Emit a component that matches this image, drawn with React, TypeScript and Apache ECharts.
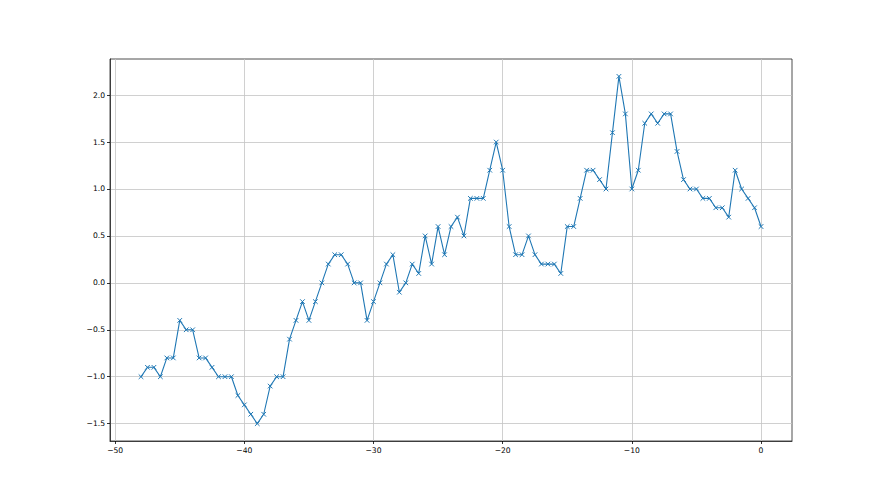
import React, { useEffect, useRef } from "react";
import * as echarts from "echarts";

const xValues: number[] = [
  -48, -47.5, -47, -46.5, -46, -45.5, -45, -44.5, -44, -43.5, -43, -42.5, -42, -41.5, -41, -40.5,
  -40, -39.5, -39, -38.5, -38, -37.5, -37, -36.5, -36, -35.5, -35, -34.5, -34, -33.5, -33, -32.5,
  -32, -31.5, -31, -30.5, -30, -29.5, -29, -28.5, -28, -27.5, -27, -26.5, -26, -25.5, -25, -24.5,
  -24, -23.5, -23, -22.5, -22, -21.5, -21, -20.5, -20, -19.5, -19, -18.5, -18, -17.5, -17, -16.5,
  -16, -15.5, -15, -14.5, -14, -13.5, -13, -12.5, -12, -11.5, -11, -10.5, -10, -9.5, -9, -8.5,
  -8, -7.5, -7, -6.5, -6, -5.5, -5, -4.5, -4, -3.5, -3, -2.5, -2, -1.5, -1, -0.5, 0,
];

const yValues: number[] = [
  -1.0, -0.9, -0.9, -1.0, -0.8, -0.8, -0.4, -0.5, -0.5, -0.8, -0.8, -0.9, -1.0, -1.0, -1.0, -1.2,
  -1.3, -1.4, -1.5, -1.4, -1.1, -1.0, -1.0, -0.6, -0.4, -0.2, -0.4, -0.2, 0.0, 0.2, 0.3, 0.3,
  0.2, 0.0, 0.0, -0.4, -0.2, 0.0, 0.2, 0.3, -0.1, 0.0, 0.2, 0.1, 0.5, 0.2, 0.6, 0.3,
  0.6, 0.7, 0.5, 0.9, 0.9, 0.9, 1.2, 1.5, 1.2, 0.6, 0.3, 0.3, 0.5, 0.3, 0.2, 0.2,
  0.2, 0.1, 0.6, 0.6, 0.9, 1.2, 1.2, 1.1, 1.0, 1.6, 2.2, 1.8, 1.0, 1.2, 1.7, 1.8,
  1.7, 1.8, 1.8, 1.4, 1.1, 1.0, 1.0, 0.9, 0.9, 0.8, 0.8, 0.7, 1.2, 1.0, 0.9, 0.8, 0.6,
];

const xTicks: number[] = [-50, -40, -30, -20, -10, 0];
const yTicks: number[] = [-1.5, -1.0, -0.5, 0.0, 0.5, 1.0, 1.5, 2.0];

const fmt = (v: number, d: number) => {
  const s = Math.abs(v).toFixed(d);
  return v < 0 ? "\u2212" + s : s;
};

export default function App() {
  const ref = useRef<HTMLDivElement>(null);
  useEffect(() => {
    if (!ref.current) return;
    const chart = echarts.init(ref.current, null, { renderer: "svg" });
    const labelStyle = {
      color: "#000",
      fontFamily: "DejaVu Sans",
      fontSize: 7.6,
    };
    chart.setOption({
      animation: false,
      backgroundColor: "#fff",
      grid: {
        left: 110,
        top: 59,
        width: 682,
        height: 382,
        show: true,
        borderColor: "#222",
        borderWidth: 0.8,
        backgroundColor: "transparent",
      },
      xAxis: {
        type: "value",
        min: -50.4,
        max: 2.4,
        axisLine: { show: true, onZero: false, lineStyle: { color: "#222", width: 0.8 } },
        axisTick: { show: true, length: 3, lineStyle: { color: "#000", width: 0.8 }, customValues: xTicks },
        axisLabel: { ...labelStyle, margin: 5, customValues: xTicks, formatter: (v: number) => fmt(v, 0) },
        splitLine: { show: true, lineStyle: { color: "#c4c4c4", width: 0.8 } },
      },
      yAxis: {
        type: "value",
        min: -1.685,
        max: 2.385,
        axisLine: { show: true, onZero: false, lineStyle: { color: "#222", width: 0.8 } },
        axisTick: { show: true, length: 3, lineStyle: { color: "#000", width: 0.8 }, customValues: yTicks },
        axisLabel: { ...labelStyle, margin: 5, customValues: yTicks, formatter: (v: number) => fmt(v, 1) },
        splitLine: { show: true, lineStyle: { color: "#c4c4c4", width: 0.8 } },
      },
      series: [
        {
          type: "line",
          data: xValues.map((x, i) => [x, yValues[i]]),
          symbol: "path://M0,0L10,10M10,0L0,10",
          symbolSize: 4.6,
          showAllSymbol: true,
          lineStyle: { color: "#1f77b4", width: 1.1 },
          itemStyle: { color: "none", borderColor: "#1f77b4", borderWidth: 1 },
          emphasis: { disabled: true },
        },
      ],
    });
    return () => chart.dispose();
  }, []);
  return (
    <div
      ref={ref}
      style={{ position: "fixed", left: 0, top: 0, width: 880, height: 495, background: "#fff" }}
    />
  );
}
